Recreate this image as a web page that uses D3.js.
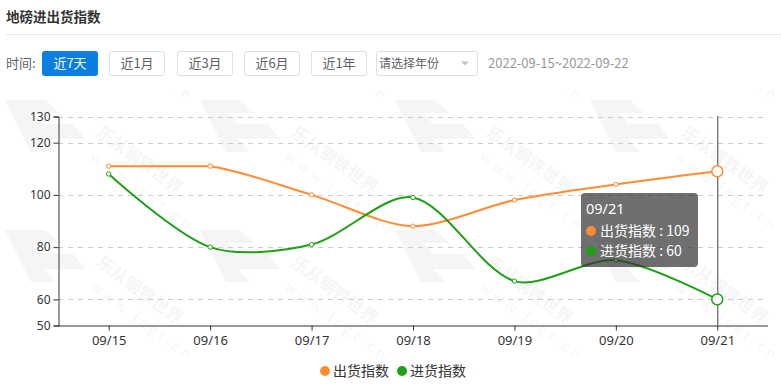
<!DOCTYPE html>
<html>
<head>
<meta charset="utf-8">
<script src="https://cdn.jsdelivr.net/npm/d3@7"></script>
<style>
  body { margin: 0; background: #fff; }
  svg { display: block; font-family: "Noto Sans CJK SC", "Noto Sans", sans-serif; }
</style>
</head>
<body>
<svg id="chart" width="781" height="386"></svg>
<script>
// data
var dates = ["09/15", "09/16", "09/17", "09/18", "09/19", "09/20", "09/21"];
var outIndex = [111, 111, 100, 88, 98, 104, 109];   // 出货指数
var inIndex = [108, 80, 81, 99, 67, 75, 60];        // 进货指数
var yTicks = [50, 60, 80, 100, 120, 130];
var seriesNames = ["出货指数", "进货指数"];
var colors = ["#ff8c33", "#1e9f16"];
var buttons = ["近7天", "近1月", "近3月", "近6月", "近1年"];
var hoverIdx = 6;

var svg = d3.select("#chart");

// header
svg.append("text").attr("x", 6).attr("y", 22)
  .attr("font-size", 13.5).attr("font-weight", "bold").attr("fill", "#333")
  .text("地磅进出货指数");
svg.append("line").attr("x1", 6).attr("x2", 781).attr("y1", 34.5).attr("y2", 34.5)
  .attr("stroke", "#e8e8e8");

svg.append("text").attr("x", 6).attr("y", 68).attr("font-size", 13).attr("fill", "#606266")
  .text("时间:");

var bg = svg.append("g");
buttons.forEach(function(b, i) {
  var x0 = [42, 109, 177, 244, 311][i];
  bg.append("rect").attr("x", x0 + 0.5).attr("y", 51.5).attr("width", 55).attr("height", 24)
    .attr("rx", 2)
    .attr("fill", i === 0 ? "#0b7fe0" : "#fff")
    .attr("stroke", i === 0 ? "#0b7fe0" : "#dcdfe6");
  bg.append("text").attr("x", x0 + 28).attr("y", 68).attr("text-anchor", "middle")
    .attr("font-size", 13).attr("fill", i === 0 ? "#fff" : "#606266").text(b);
});
bg.append("rect").attr("x", 376.5).attr("y", 51.5).attr("width", 101).attr("height", 24)
  .attr("rx", 2).attr("fill", "#fff").attr("stroke", "#dcdfe6");
bg.append("text").attr("x", 379).attr("y", 68).attr("font-size", 12).attr("fill", "#606266")
  .text("请选择年份");
bg.append("path").attr("d", "M461,61.5 L469,61.5 L465,65.5 Z").attr("fill", "#c0c4cc");
svg.append("text").attr("x", 488).attr("y", 68).attr("font-size", 13).attr("fill", "#999")
  .text("2022-09-15~2022-09-22");

// watermark
var defs = svg.append("defs");
var pat = defs.append("pattern").attr("id", "wm").attr("patternUnits", "userSpaceOnUse")
  .attr("x", 3).attr("y", 97).attr("width", 195).attr("height", 130);
pat.append("path")
  .attr("d", "M2,3 L42,3 L56,16 L30,16 L40,27 L70,27 L82,42 L40,42 L52,55 L28,55 Z")
  .attr("fill", "#000").attr("opacity", 0.04);
pat.append("text").attr("transform", "translate(92,38) rotate(36)")
  .attr("font-size", 17).attr("font-weight", "bold").attr("fill", "#000").attr("opacity", 0.04)
  .text("乐从钢铁世界");
pat.append("text").attr("transform", "translate(86,62) rotate(36)")
  .attr("font-size", 14).attr("letter-spacing", 4).attr("fill", "#000").attr("opacity", 0.04)
  .text("www.lcgt.cn");
svg.append("rect").attr("x", 0).attr("y", 90).attr("width", 781).attr("height", 270)
  .attr("fill", "url(#wm)");

// scales
var x = d3.scalePoint().domain(dates).range([58, 768]).padding(0.5);
var y = d3.scaleLinear().domain([50, 130]).range([325.5, 116.5]);

// grid
svg.append("g").selectAll("line").data(yTicks.filter(function(t) { return t > 50; }))
  .enter().append("line")
  .attr("x1", 58).attr("x2", 768)
  .attr("y1", function(d) { return Math.round(y(d)) + 0.5; })
  .attr("y2", function(d) { return Math.round(y(d)) + 0.5; })
  .attr("stroke", "#ccc").attr("stroke-dasharray", "5,5");

// axes
var yAxis = svg.append("g").attr("transform", "translate(58.5,0)")
  .call(d3.axisLeft(y).tickValues(yTicks).tickSize(5).tickPadding(3));
var xAxis = svg.append("g").attr("transform", "translate(0,325.5)")
  .call(d3.axisBottom(x).tickSize(5).tickPadding(5));
[yAxis, xAxis].forEach(function(a) {
  a.select(".domain").attr("stroke", "#333");
  a.selectAll(".tick line").attr("stroke", "#333");
  a.selectAll(".tick text").attr("fill", "#333").attr("font-size", 12)
    .attr("font-family", "'Noto Sans', sans-serif");
});
xAxis.selectAll(".tick text").attr("font-size", 13);
xAxis.select(".domain").attr("d", "M58,0.5H768");

// axis pointer
svg.append("line").attr("x1", x(dates[hoverIdx]) + 0.5).attr("x2", x(dates[hoverIdx]) + 0.5)
  .attr("y1", 116).attr("y2", 325).attr("stroke", "#444").attr("stroke-width", 1);

// smoothed line like the original chart lib: bezier control points, clamped to bbox
function smoothPath(vals, smooth) {
  var pts = vals.map(function(v, i) { return [x(dates[i]), y(v)]; });
  var minX = d3.min(pts, function(p) { return p[0]; }), maxX = d3.max(pts, function(p) { return p[0]; });
  var minY = d3.min(pts, function(p) { return p[1]; }), maxY = d3.max(pts, function(p) { return p[1]; });
  var clamp = function(p) {
    return [Math.max(minX, Math.min(maxX, p[0])), Math.max(minY, Math.min(maxY, p[1]))];
  };
  var cpIn = [], cpOut = [];
  pts.forEach(function(p, i) {
    if (i === 0 || i === pts.length - 1) { cpIn.push(p); cpOut.push(p); return; }
    var prev = pts[i - 1], next = pts[i + 1];
    var vx = (next[0] - prev[0]) * smooth, vy = (next[1] - prev[1]) * smooth;
    var d0 = Math.hypot(p[0] - prev[0], p[1] - prev[1]);
    var d1 = Math.hypot(p[0] - next[0], p[1] - next[1]);
    var s = d0 + d1;
    if (s) { d0 /= s; d1 /= s; }
    cpIn.push(clamp([p[0] - vx * d0, p[1] - vy * d0]));
    cpOut.push(clamp([p[0] + vx * d1, p[1] + vy * d1]));
  });
  var path = d3.path();
  path.moveTo(pts[0][0], pts[0][1]);
  for (var i = 1; i < pts.length; i++) {
    path.bezierCurveTo(cpOut[i - 1][0], cpOut[i - 1][1], cpIn[i][0], cpIn[i][1], pts[i][0], pts[i][1]);
  }
  return path.toString();
}

var allSeries = [outIndex, inIndex];
allSeries.forEach(function(s, k) {
  var g = svg.append("g");
  g.append("path").attr("d", smoothPath(s, 0.3))
    .attr("fill", "none").attr("stroke", colors[k]).attr("stroke-width", 2);
  g.selectAll("circle").data(s).enter().append("circle")
    .attr("cx", function(d, i) { return x(dates[i]); })
    .attr("cy", function(d) { return y(d); })
    .attr("r", function(d, i) { return i === hoverIdx ? 5.5 : 2.2; })
    .attr("fill", "#fff").attr("stroke", colors[k])
    .attr("stroke-width", function(d, i) { return i === hoverIdx ? 1.5 : 1; });
});

// tooltip
var tt = svg.append("g").attr("transform", "translate(581,193)");
tt.append("rect").attr("width", 117).attr("height", 74).attr("rx", 4)
  .attr("fill", "rgba(50,50,50,0.7)");
tt.append("text").attr("x", 5).attr("y", 21).attr("font-size", 14.5).attr("fill", "#fff")
  .attr("font-family", "'Noto Sans', sans-serif").text(dates[hoverIdx]);
allSeries.forEach(function(s, k) {
  var ty = 43 + k * 20;
  tt.append("circle").attr("cx", 10).attr("cy", ty - 5).attr("r", 5).attr("fill", colors[k]);
  tt.append("text").attr("x", 19).attr("y", ty).attr("font-size", 14).attr("fill", "#fff")
    .text(seriesNames[k] + " : " + s[hoverIdx]);
});

// legend
var lg = svg.append("g");
[[325, 333], [402, 410]].forEach(function(p, k) {
  lg.append("circle").attr("cx", p[0]).attr("cy", 371).attr("r", 5).attr("fill", colors[k]);
  lg.append("text").attr("x", p[1]).attr("y", 376).attr("font-size", 14).attr("fill", "#333")
    .text(seriesNames[k]);
});
</script>
</body>
</html>
